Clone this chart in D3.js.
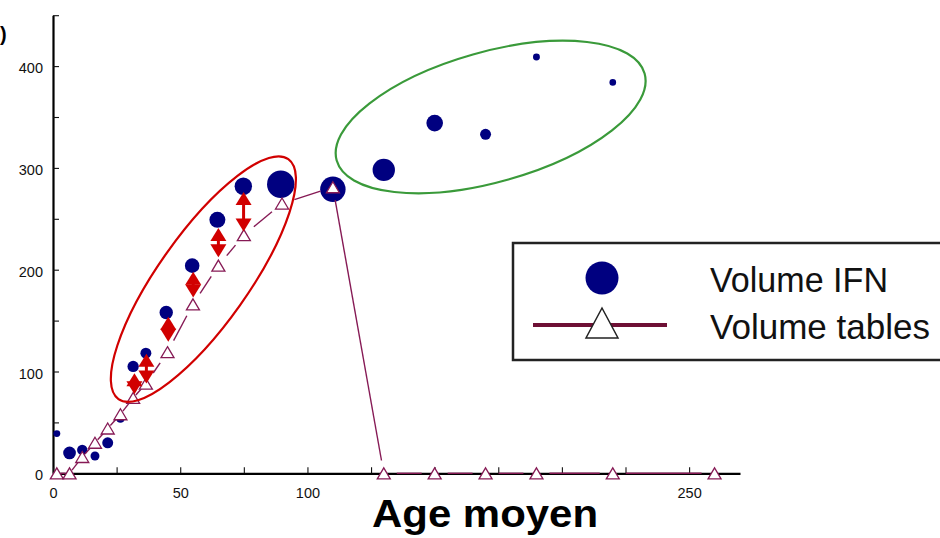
<!DOCTYPE html>
<html><head><meta charset="utf-8">
<script src="https://cdn.jsdelivr.net/npm/d3@7"></script>
<style>body{margin:0;background:#fff}svg{display:block;font-family:"Liberation Sans",Arial,Helvetica,sans-serif}</style>
</head><body><svg id="c" width="940" height="538"></svg>
<script>
// ---- data ----
const ageTables = [1.5,6.5,11.5,16.5,21.5,26.5,31.5,36.5,45,55,65,75,90,110,130,150,170,190,220,260];
const volTables = [0,0,16,30,44,58,74,88,119,166,204,234,265,281,0,0,0,0,0,0];
const ageIFN = [1.5,6.5,11.5,16.5,21.5,26.5,31.5,36.5,44.5,54.7,64.6,74.8,89.5,110,130,150,170,190,220];
const volIFN = [39,20,23,17,30,54,105,118,158,204,249,282,284,279,298,344,333,409,384];
const weightIFN = [12,40,27,20,30,20,32,30,45,53,64,76,188,161,125,69,30,12,11];
const ageRange = [32,36.7,45.3,55.1,65,74.9];
const volHigh = [92,111,147.5,191.5,234.5,270];
const volLow = [84,94.5,135.5,179,218.5,244];
const xTicks = [0,25,50,75,100,125,150,175,200,225,250];
const xTickLabels = [0,50,100,250];
const yTicks = [0,50,100,150,200,250,300,350,400,450];
const yTickLabels = [0,100,200,300,400];
const legendLabels = ["Volume IFN","Volume tables"];
const xTitle = "Age moyen";

// ---- layout ----
const svg = d3.select("#c");
const x = d3.scaleLinear().domain([0,270]).range([53,740]);
const y = d3.scaleLinear().domain([0,450]).range([473.3,15.2]);
const r = d3.scaleSqrt().domain([0,196]).range([0,14]);
const NAVY = "#000080", LINE = "#861a55", RED = "#d10000";

// axes
const yAxis = d3.axisLeft(y).tickValues(yTicks).tickSize(-6).tickSizeOuter(0).tickPadding(10)
  .tickFormat(d => yTickLabels.includes(d) ? d : "");
const gy = svg.append("g").attr("transform","translate(53,0)").call(yAxis);
const xAxis = d3.axisBottom(x).tickValues(xTicks).tickSize(-6).tickSizeOuter(0).tickPadding(14)
  .tickFormat(d => xTickLabels.includes(d) ? d : "");
const gx = svg.append("g").attr("transform","translate(0,473.3)").call(xAxis);
[gx, gy].forEach(g => {
  g.select(".domain").attr("stroke","#000").attr("stroke-width",2.2);
  g.selectAll(".tick line").attr("stroke","#111").attr("stroke-width",1.1);
  g.selectAll(".tick text").attr("font-size",14.5).attr("fill","#111")
   .attr("font-family",'"Liberation Sans",Arial,sans-serif');
});
gy.selectAll(".tick text").attr("dy","0.45em");

// IFN circles
svg.append("g").selectAll("circle").data(ageIFN).join("circle")
  .attr("cx", d => x(d)).attr("cy", (d,i) => y(volIFN[i]))
  .attr("r", (d,i) => r(weightIFN[i])).attr("fill", NAVY);

// tables line with gaps around points
const pts = ageTables.map((a,i) => [x(a), y(volTables[i])]);
const gLine = svg.append("g");
for (let i = 0; i < pts.length - 1; i++) {
  const [x0,y0] = pts[i], [x1,y1] = pts[i+1];
  const len = Math.hypot(x1-x0, y1-y0);
  const gap = len >= 30 ? 13 : 4;
  if (len <= 2*gap) continue;
  const ux = (x1-x0)/len, uy = (y1-y0)/len;
  gLine.append("line")
    .attr("x1", x0+ux*gap).attr("y1", y0+uy*gap)
    .attr("x2", x1-ux*gap).attr("y2", y1-uy*gap)
    .attr("stroke", LINE).attr("stroke-width", 1.4);
}
// triangles
const tw = 13, th = 11;
svg.append("g").selectAll("path").data(pts).join("path")
  .attr("d", ([cx,cy]) => `M${cx},${cy-th/2}L${cx+tw/2},${cy+th/2}L${cx-tw/2},${cy+th/2}Z`)
  .attr("fill","#fff").attr("stroke", LINE).attr("stroke-width", 1.3);

// red range markers
const rw = 16, rh = 13;
const gR = svg.append("g");
ageRange.forEach((a,i) => {
  const cx = x(a), yh = y(volHigh[i]), yl = y(volLow[i]);
  gR.append("line").attr("x1",cx).attr("x2",cx).attr("y1",yh).attr("y2",yl)
    .attr("stroke",RED).attr("stroke-width",3);
  gR.append("path").attr("d",`M${cx},${yh-rh/2}L${cx+rw/2},${yh+rh/2}L${cx-rw/2},${yh+rh/2}Z`).attr("fill",RED);
  gR.append("path").attr("d",`M${cx},${yl+rh/2}L${cx+rw/2},${yl-rh/2}L${cx-rw/2},${yl-rh/2}Z`).attr("fill",RED);
});

// annotation ellipses (centres in data units)
const ellipses = [
  {age:59.1, vol:190.8, rx:147, ry:45, rot:-54.7, color:RED},
  {age:172, vol:350, rx:160, ry:65, rot:-15.8, color:"#3a9a3a"}
];
svg.append("g").selectAll("ellipse").data(ellipses).join("ellipse")
  .attr("cx", d => x(d.age)).attr("cy", d => y(d.vol))
  .attr("rx", d => d.rx).attr("ry", d => d.ry)
  .attr("transform", d => `rotate(${d.rot},${x(d.age)},${y(d.vol)})`)
  .attr("fill","none").attr("stroke", d => d.color).attr("stroke-width",2.2);

// legend
const lg = svg.append("g");
lg.append("rect").attr("x",513).attr("y",243).attr("width",440).attr("height",117)
  .attr("fill","#fff").attr("stroke","#222").attr("stroke-width",2.5);
lg.append("circle").attr("cx",602).attr("cy",278).attr("r",16.5).attr("fill",NAVY);
lg.append("line").attr("x1",533).attr("x2",667).attr("y1",325).attr("y2",325)
  .attr("stroke","#6e1035").attr("stroke-width",4);
lg.append("path").attr("d","M602,308L618,338L586,338Z").attr("fill","#fff").attr("stroke","#222").attr("stroke-width",1.5);
lg.selectAll("text").data(legendLabels).join("text")
  .attr("x",710).attr("y",(d,i) => 292 + i*47)
  .attr("font-size",35).attr("fill","#111")
  .attr("textLength",(d,i) => i ? 220 : 178).attr("lengthAdjust","spacingAndGlyphs")
  .text(d => d);

// axis title
svg.append("text").attr("x",372).attr("y",527).attr("font-size",38).attr("font-weight","bold")
  .attr("textLength",226).attr("lengthAdjust","spacingAndGlyphs").text(xTitle);
// label fragment at top-left
svg.append("text").attr("x",0).attr("y",41).attr("text-anchor","start")
  .attr("font-size",20).attr("font-weight","bold").text(")");
</script></body></html>
